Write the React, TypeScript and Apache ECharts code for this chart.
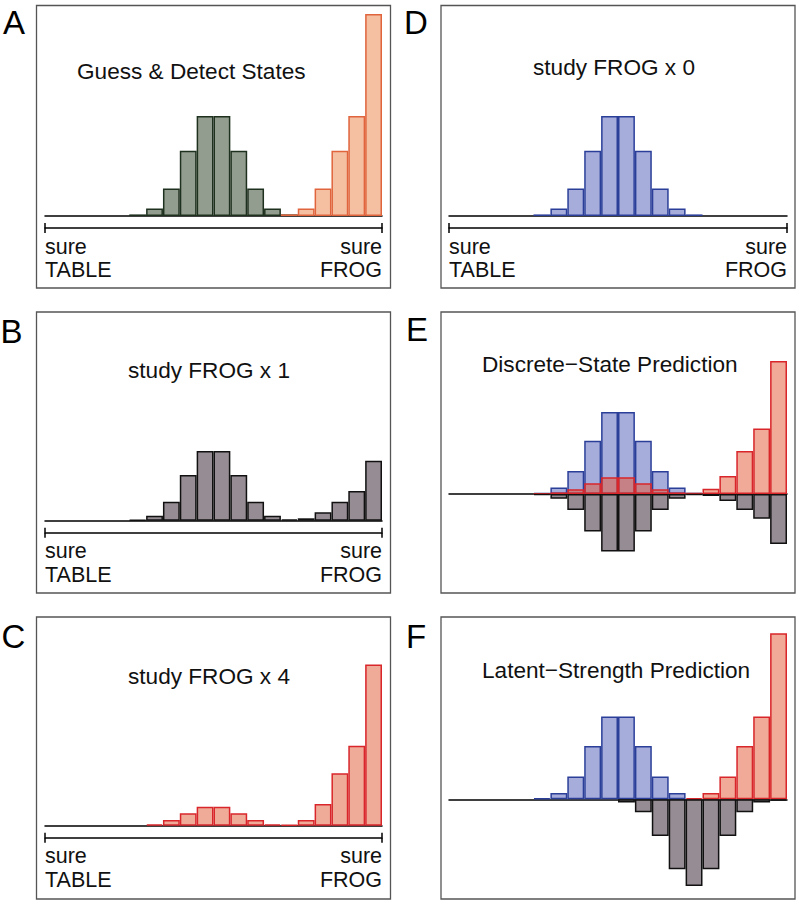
import React, { useEffect, useRef } from "react";
import * as echarts from "echarts";

// ---------- data (percent of responses per confidence bin, 20 bins) ----------
const BINS = ["1","2","3","4","5","6","7","8","9","10","11","12","13","14","15","16","17","18","19","20"];
const _ = null;

const GUESS_A = [_, _, _, _, _, 0.4, 1.9, 6.9, 16.3, 25, 25, 16.3, 6.9, 1.9, 0.4, _, _, _, _, _];
const DETECT_A = [_, _, _, _, _, _, _, _, _, _, _, _, _, _, 0.4, 1.9, 6.9, 16.3, 25, 50.5];
const STUDY1_B = [_, _, _, _, _, 0.17, 1.25, 4.75, 11.4, 17.4, 17.4, 11.4, 4.75, 1.25, 0.35, 0.6, 2.1, 4.75, 7.4, 15];
const STUDY4_C = [_, _, _, _, _, _, 0.33, 1.4, 3.1, 4.75, 4.75, 3.1, 1.4, 0.33, 0.17, 1.4, 5.4, 13.1, 20, 40.3];
const STUDY0_D = [_, _, _, _, _, 0.4, 1.9, 6.9, 16.3, 25, 25, 16.3, 6.9, 1.9, 0.4, _, _, _, _, _];

const BLUE_E = [_, _, _, _, _, 0.25, 1.6, 5.75, 13.3, 20.5, 20.5, 13.3, 5.75, 1.6, 0.25, _, _, _, _, _];
const RED_E = [_, _, _, _, _, 0.1, 0.4, 1.2, 2.7, 4.2, 4.2, 2.7, 1.2, 0.4, 0.25, 1.3, 4.5, 10.75, 16.4, 33.25];
const GREY_E = [_, _, _, _, _, -0.25, -1.2, -4, -9.4, -14.4, -14.4, -9.4, -4, -1.2, -0.3, -0.5, -1.75, -4, -6.2, -12.5];

const BLUE_F = [_, _, _, _, _, 0.25, 1.6, 5.7, 13.3, 20.7, 20.7, 13.3, 5.7, 1.6, _, _, _, _, _, _];
const RED_F = [_, _, _, _, _, _, _, _, _, _, _, _, _, _, 0.33, 1.6, 5.7, 13.3, 20.7, 41.5];
const GREY_F = [_, _, _, _, _, _, _, _, _, _, -0.8, -3.25, -9.2, -17.5, -21.7, -17.5, -9.2, -3.25, -0.8, -0.3];

const TITLES = ["Guess & Detect States", "study FROG x 1", "study FROG x 4", "study FROG x 0", "Discrete\u2212State Prediction", "Latent\u2212Strength Prediction"];
const LETTERS = ["A", "B", "C", "D", "E", "F"];
const END_LABELS = ["sure\nTABLE", "sure\nFROG"];

// ---------- styles ----------
const STY = {
  green: { fill: "#939d8f", stroke: "#1e301e" },
  orange: { fill: "#f5bfa2", stroke: "#e0643c" },
  grey: { fill: "#968c93", stroke: "#111111" },
  red: { fill: "#f0aa98", stroke: "#d8262b" },
  blue: { fill: "#a7addb", stroke: "#2b3f99" },
  redT: { fill: "rgba(228,85,50,0.5)", stroke: "#d8262b" },
};

const FONT = "'Liberation Sans', Arial, Helvetica, sans-serif";
const PX_PER_PCT = 4;

// layout: box [x0,y0,x1,y1], plot x range, baseline y, title pos, letter pos
const PANELS = [
  { box: [36.5, 5.5, 390.5, 288], px: [45, 382], base: 216, bracket: true, title: [77, 60], letter: [3, 6],
    series: [{ d: GUESS_A, s: STY.green }, { d: DETECT_A, s: STY.orange }] },
  { box: [36.5, 312, 390.5, 593], px: [45, 382], base: 520.7, bracket: true, title: [128, 359], letter: [0.5, 314.5],
    series: [{ d: STUDY1_B, s: STY.grey }] },
  { box: [36.5, 617, 390.5, 899], px: [45, 382], base: 825.7, bracket: true, title: [128, 665], letter: [1.5, 619.5],
    series: [{ d: STUDY4_C, s: STY.red }] },
  { box: [441, 5.5, 795, 288], px: [449, 787], base: 216, bracket: true, title: [533, 56], letter: [404, 6],
    series: [{ d: STUDY0_D, s: STY.blue }] },
  { box: [441, 312, 795, 593], px: [449, 787], base: 494, bracket: false, title: [482, 353], letter: [406, 312.5],
    series: [{ d: BLUE_E, s: STY.blue }, { d: RED_E, s: STY.redT }, { d: GREY_E, s: STY.grey }] },
  { box: [441, 617, 795, 899], px: [449, 787], base: 799.3, bracket: false, title: [482, 659], letter: [406, 619.5],
    series: [{ d: BLUE_F, s: STY.blue }, { d: RED_F, s: STY.redT }, { d: GREY_F, s: STY.grey }] },
];

function buildOption() {
  const grid: any[] = [];
  const xAxis: any[] = [];
  const yAxis: any[] = [];
  const series: any[] = [];
  const title: any[] = [];
  const graphic: any[] = [];

  PANELS.forEach((p, gi) => {
    const top = p.box[1];
    const bottom = p.bracket ? p.base : p.box[3];
    grid.push({ left: p.px[0], width: p.px[1] - p.px[0], top, height: bottom - top, containLabel: false });
    yAxis.push({
      type: "value", gridIndex: gi, show: false,
      max: (p.base - top) / PX_PER_PCT, min: -(bottom - p.base) / PX_PER_PCT,
      splitLine: { show: false },
    });
    const catIndex = xAxis.length;
    xAxis.push({
      type: "category", gridIndex: gi, data: BINS, position: "bottom",
      axisLine: { show: true, onZero: true, lineStyle: { color: "#000", width: 1.5 } },
      axisTick: { show: false }, axisLabel: { show: false }, splitLine: { show: false },
    });
    if (p.bracket) {
      const common = {
        type: "value", gridIndex: gi, min: 0, max: 20, interval: 20, position: "bottom", offset: 12,
        splitLine: { show: false },
      };
      xAxis.push({
        ...common,
        axisLine: { show: true, onZero: false, lineStyle: { color: "#000", width: 1.5 } },
        axisTick: { show: true, inside: false, length: 5, lineStyle: { color: "#000", width: 1.5 } },
        axisLabel: {
          show: true, margin: 7, fontSize: 21.5, lineHeight: 23.5, color: "#111", fontFamily: FONT,
          alignMinLabel: "left", alignMaxLabel: "right",
          formatter: (v: number) => (v === 0 ? END_LABELS[0] : v === 20 ? END_LABELS[1] : ""),
        },
      });
      xAxis.push({
        ...common,
        axisLine: { show: false, onZero: false },
        axisTick: { show: true, inside: true, length: 5, lineStyle: { color: "#000", width: 1.5 } },
        axisLabel: { show: false },
      });
    }
    p.series.forEach((s) => {
      series.push({
        type: "bar", xAxisIndex: catIndex, yAxisIndex: gi, data: s.d,
        barWidth: "100%", barGap: "-100%",
        itemStyle: { color: s.s.fill, borderColor: s.s.stroke, borderWidth: 1.5 },
        emphasis: { disabled: true }, silent: true,
      });
    });
    title.push({
      text: TITLES[gi], left: p.title[0], top: p.title[1] - 0.5, padding: 0,
      textStyle: { fontFamily: FONT, fontSize: 22.6, fontWeight: "normal", color: "#111" },
    });
    title.push({
      text: LETTERS[gi], left: p.letter[0], top: p.letter[1], padding: 0,
      textStyle: { fontFamily: FONT, fontSize: 33, fontWeight: "normal", color: "#000" },
    });
    graphic.push({
      type: "rect", silent: true, z: -1,
      shape: { x: p.box[0], y: p.box[1], width: p.box[2] - p.box[0], height: p.box[3] - p.box[1] },
      style: { fill: "none", stroke: "#555", lineWidth: 1.3 },
    });
  });

  return { animation: false, backgroundColor: "#fff", grid, xAxis, yAxis, series, title, graphic };
}

export default function App() {
  const ref = useRef<HTMLDivElement>(null);
  useEffect(() => {
    if (!ref.current) return;
    const chart = echarts.init(ref.current, null, { renderer: "svg" });
    chart.setOption(buildOption() as any);
    return () => chart.dispose();
  }, []);
  return <div ref={ref} style={{ position: "absolute", left: 0, top: 0, width: 796, height: 900 }} />;
}
